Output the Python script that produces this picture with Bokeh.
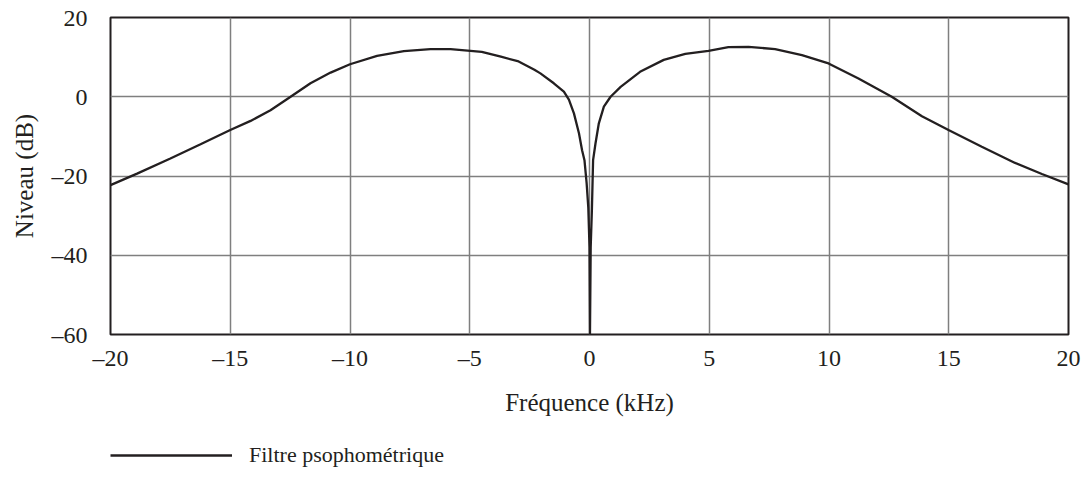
from bokeh.plotting import figure
from bokeh.layouts import column
from bokeh.models import FixedTicker, Range1d, Legend, LegendItem
from bokeh.embed import file_html
from bokeh.resources import INLINE

# Data (frequency in kHz, level in dB)
freq_khz = [-20, -18.89, -17.5, -16.24, -15, -14.15, -13.32, -12.48, -11.65, -10.81,
            -10, -8.87, -7.75, -6.64, -5.8, -4.97, -4.5, -3.7, -3.0, -2.3, -2.05,
            -1.49, -1.07, -0.86, -0.65, -0.44, -0.31, -0.21, -0.12, -0.05, 0.0,
            0.02, 0.05, 0.1, 0.15, 0.25, 0.39, 0.6, 0.88, 1.3, 2.11, 3.1, 4.0,
            4.97, 5.8, 6.64, 7.75, 8.87, 9.98, 11.23, 12.62, 13.88, 14.99, 16.38,
            17.77, 18.89, 20]
level_db = [-22.3, -19.4, -15.6, -12.0, -8.4, -6.1, -3.4, 0.0, 3.4, 6.1,
            8.2, 10.3, 11.5, 12.0, 12.0, 11.6, 11.3, 10.1, 9.0, 6.8, 5.9,
            3.4, 1.3, -0.7, -4.2, -9.2, -13.5, -16.0, -21.8, -28.0, -38.0,
            -60.0, -38.0, -28.6, -16.0, -11.8, -6.7, -2.5, 0.0, 2.5, 6.3, 9.3, 10.8,
            11.6, 12.5, 12.6, 12.0, 10.5, 8.4, 4.6, 0.0, -4.9, -8.4, -12.6,
            -16.7, -19.5, -22.1]

x_ticks = [-20, -15, -10, -5, 0, 5, 10, 15, 20]
y_ticks = [-60, -40, -20, 0, 20]
x_title = "Fréquence (kHz)"
y_title = "Niveau (dB)"
series_name = "Filtre psophométrique"

FONT = "Liberation Serif"
INK = "#231f20"

p = figure(frame_width=958, frame_height=317, output_backend="svg", toolbar_location=None,
           x_range=Range1d(-20, 20), y_range=Range1d(-60, 20),
           min_border_left=110, min_border_right=15, min_border_top=17,
           min_border_bottom=108)

p.outline_line_color = INK
p.outline_line_width = 2
p.background_fill_color = "white"
p.border_fill_color = "white"

for ax, ticks in ((p.xaxis[0], x_ticks), (p.yaxis[0], y_ticks)):
    ax.ticker = FixedTicker(ticks=ticks)
    ax.major_label_overrides = {t: (("–" + str(abs(t))) if t < 0 else str(t)) for t in ticks}
    ax.axis_line_color = None
    ax.major_tick_line_color = None
    ax.minor_tick_line_color = None
    ax.major_tick_out = 0
    ax.major_tick_in = 0
    ax.major_label_text_font = FONT
    ax.major_label_text_font_size = "24px"
    ax.major_label_text_color = INK
    ax.axis_label_text_font = FONT
    ax.axis_label_text_font_size = "25px"
    ax.axis_label_text_font_style = "normal"
    ax.axis_label_text_color = INK

p.xaxis.axis_label = x_title
p.yaxis.axis_label = y_title
p.xaxis.major_label_standoff = 10
p.xaxis.axis_label_standoff = 15
p.yaxis.major_label_standoff = 23
p.yaxis.axis_label_standoff = 11

p.xgrid.ticker = FixedTicker(ticks=x_ticks)
p.ygrid.ticker = FixedTicker(ticks=y_ticks)
for g in (p.xgrid[0], p.ygrid[0]):
    g.grid_line_color = "#7f7f7f"
    g.grid_line_width = 1.5

p.line(freq_khz, level_db, line_color=INK, line_width=2.3)

# Legend strip below the chart (its line sits outside the strip's visible range)
leg = figure(width=1083, height=36, output_backend="svg", toolbar_location=None,
             x_range=Range1d(-20, 20), y_range=Range1d(100, 101),
             x_axis_location=None, y_axis_location=None,
             min_border_left=0, min_border_right=0, min_border_top=0, min_border_bottom=0)
leg.outline_line_color = None
leg.xgrid.visible = False
leg.ygrid.visible = False
leg.background_fill_color = "white"
leg.border_fill_color = "white"
key = leg.line(freq_khz, level_db, line_color=INK, line_width=2.3)

legend = Legend(items=[LegendItem(label=series_name, renderers=[key])],
                location=(0, 10), orientation="horizontal",
                glyph_width=122, glyph_height=26, label_height=26, label_standoff=17,
                padding=0, margin=0, spacing=0,
                border_line_color=None, background_fill_alpha=0,
                label_text_font=FONT, label_text_font_size="22px",
                label_text_color=INK)
leg.add_layout(legend, "center")

open("out.html", "w").write(file_html(column(p, leg, spacing=0), INLINE))
